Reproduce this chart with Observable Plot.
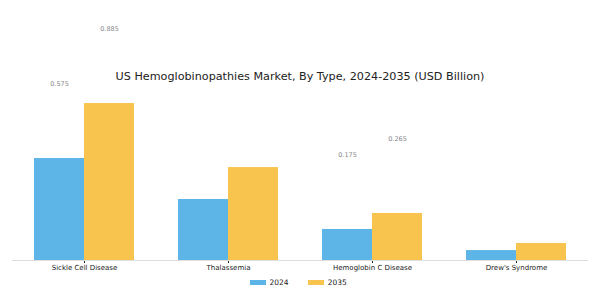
<!DOCTYPE html>
<html>
<head>
<meta charset="utf-8">
<script src="https://cdn.jsdelivr.net/npm/d3@7"></script>
<script src="https://cdn.jsdelivr.net/npm/@observablehq/plot@0.6"></script>
<style>
  html, body { margin: 0; padding: 0; background: #fff; }
  #wrap { position: relative; width: 600px; height: 300px; font-family: "DejaVu Sans", sans-serif; }
  #title { position: absolute; top: 70px; left: 0; width: 600px; text-align: center; font-size: 11.2px; color: #222; z-index: 2; }
  #chart svg { display: block; }
  #chart [aria-label="fx-axis tick"] { stroke: #bbb; }
  #legend { display: flex; justify-content: center; }
</style>
</head>
<body>
<div id="wrap">
  <div id="title"></div>
  <div id="chart"></div>
  <div id="legend"></div>
</div>
<script>
const titleText = "US Hemoglobinopathies Market, By Type, 2024-2035 (USD Billion)";
const types = ["Sickle Cell Disease", "Thalassemia", "Hemoglobin C Disease", "Drew's Syndrome"];
const years = ["2024", "2035"];
const values2024 = [0.575, 0.344, 0.175, 0.056];
const values2035 = [0.885, 0.524, 0.265, 0.096];
const labeledTypes = ["Sickle Cell Disease", "Hemoglobin C Disease"];
const colors = ["#5DB4E6", "#F9C44D"];

const data = [];
types.forEach((t, i) => {
  data.push({type: t, year: years[0], value: values2024[i]});
  data.push({type: t, year: years[1], value: values2035[i]});
});
const labelData = data.filter(d => labeledTypes.includes(d.type));

document.getElementById("title").textContent = titleText;

const chart = Plot.plot({
  width: 600,
  height: 273,
  marginLeft: 12,
  marginRight: 12,
  marginTop: 0,
  marginBottom: 13,
  style: {fontFamily: "DejaVu Sans, sans-serif", fontSize: "7px", color: "#222", background: "#fff"},
  fx: {domain: types, padding: 0, label: null, tickSize: 3, tickPadding: 2},
  x: {domain: years, axis: null, paddingInner: 0, paddingOuter: 0.44},
  y: {domain: [0, 1.466], axis: null},
  color: {domain: years, range: colors},
  marks: [
    Plot.barY(data, {fx: "type", x: "year", y: "value", fill: "year"}),
    Plot.ruleY([0], {stroke: "#ddd", strokeWidth: 1}),
    Plot.text(labelData, {fx: "type", x: "year", y: "value", text: d => d.value.toFixed(3), dy: -75, fill: "#888", fontSize: 6.5})
  ]
});
document.getElementById("chart").appendChild(chart);

const legend = Plot.legend({
  color: {domain: years, range: colors},
  swatchWidth: 16,
  swatchHeight: 5,
  style: {fontFamily: "DejaVu Sans, sans-serif", fontSize: "7.5px", color: "#222", marginLeft: "4px", minHeight: "18px", gap: "12px"}
});
document.getElementById("legend").appendChild(legend);
</script>
</body>
</html>
